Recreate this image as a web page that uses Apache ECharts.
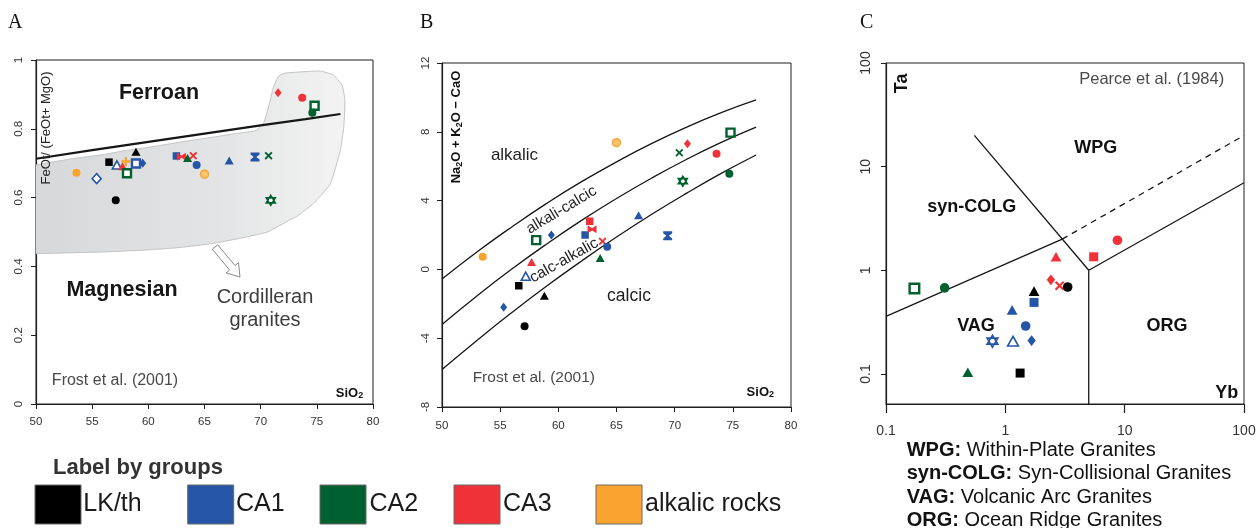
<!DOCTYPE html>
<html><head><meta charset="utf-8">
<script src="https://cdn.jsdelivr.net/npm/echarts@6.0.0/dist/echarts.min.js"></script>
<style>html,body{margin:0;padding:0;background:#fff}#c{width:1258px;height:528px}</style>
</head><body><div id="c"></div>
<script>
// ---------- data ----------
const groupNames = ['LK/th', 'CA1', 'CA2', 'CA3', 'alkalic rocks'];
const groupKeys = ['LK', 'CA1', 'CA2', 'CA3', 'ALK'];
const groupColors = {LK:'#000000', CA1:'#2455a6', CA2:'#00602f', CA3:'#ee3238', ALK:'#f9a431'};

// Panel A: SiO2 vs FeOt/(FeOt+MgO)
const panelA_points = [
  [53.6,0.672,'ALK','circle'], [55.4,0.655,'CA1','odiam'], [56.5,0.703,'LK','square'],
  [57.1,0.592,'LK','circle'], [57.2,0.695,'CA1','otri'], [57.7,0.691,'CA3','triangle'],
  [58.0,0.705,'ALK','plus'], [58.1,0.671,'CA2','bsq'], [58.9,0.733,'LK','triangle'],
  [58.9,0.699,'CA1','bsq'], [59.5,0.700,'CA1','diamond'], [62.5,0.721,'CA1','square'],
  [62.95,0.719,'CA3','bow'], [63.5,0.715,'CA2','triangle'], [64.0,0.722,'CA3','x'],
  [64.3,0.695,'CA1','circle'], [65.0,0.668,'ALK','ocirc'], [67.2,0.708,'CA1','triangle'],
  [69.5,0.718,'CA1','hour'], [70.7,0.722,'CA2','x'], [70.9,0.592,'CA2','hex'],
  [71.55,0.905,'CA3','diamond'], [73.7,0.890,'CA3','circle'], [74.8,0.867,'CA2','bsq'],
  [74.6,0.847,'CA2','circle']
];
const ferroanBoundary = [[50,0.713],[55,0.738],[60,0.762],[65,0.786],[70,0.81],[74,0.828],[77.1,0.843]];
const cordilleranField = [
  [49,0.69],[50,0.695],[53,0.712],[56,0.725],[58,0.737],[60,0.746],[63,0.762],[66,0.777],[68,0.787],
  [69.6,0.795],[70.3,0.82],[70.7,0.864],[71.15,0.922],[71.6,0.953],[72.2,0.962],[75.3,0.968],
  [76.5,0.956],[77.25,0.927],[77.5,0.884],[77.4,0.806],[77.1,0.738],[76.2,0.64],[74.7,0.583],
  [73.2,0.545],[72.6,0.535],[70.6,0.50],[68.8,0.486],[65.8,0.467],[62.85,0.455],[60,0.448],
  [56,0.442],[50,0.437],[49,0.437]
];

// Panel B: SiO2 vs Na2O+K2O-CaO (MALI)
const panelB_points = [
  [53.5,0.74,'ALK','circle'], [55.3,-2.2,'CA1','diamond'], [56.6,-0.95,'LK','square'],
  [57.1,-3.3,'LK','circle'], [57.2,-0.4,'CA1','otri'], [57.7,0.43,'CA3','triangle'],
  [58.1,1.7,'CA2','bsq'], [58.8,-1.53,'LK','triangle'], [59.4,2.0,'CA1','diamond'],
  [62.3,2.0,'CA1','square'], [62.7,2.8,'CA3','square'], [62.9,2.33,'CA3','bow'],
  [63.8,1.63,'CA3','x'], [63.6,0.66,'CA2','triangle'], [64.2,1.32,'CA1','circle'],
  [65.0,7.37,'ALK','ocirc'], [66.9,3.15,'CA1','triangle'], [69.4,1.95,'CA1','hour'],
  [70.4,6.78,'CA2','x'], [70.7,5.13,'CA2','hex'], [71.1,7.3,'CA3','diamond'],
  [73.6,6.72,'CA3','circle'], [74.8,7.95,'CA2','bsq'], [74.7,5.56,'CA2','circle']
];
const maliAlkalic = [[50,-0.56],[53,1.01],[56,2.47],[59,3.84],[62,5.10],[65,6.25],[68,7.31],[71,8.26],[74,9.11],[77,9.85]];
const maliAlkaliCalcic = [[50,-3.20],[53,-1.54],[56,0.02],[59,1.48],[62,2.85],[65,4.12],[68,5.30],[71,6.39],[74,7.38],[77,8.27]];
const maliCalcAlkalic = [[50,-5.82],[53,-4.13],[56,-2.51],[59,-0.97],[62,0.49],[65,1.88],[68,3.19],[71,4.42],[74,5.58],[77,6.65]];

// Panel C: Yb vs Ta (Pearce et al. 1984), raw values (log axes)
const panelC_points = [
  [0.173,0.667,'CA2','bsq'], [0.31,0.676,'CA2','circle'], [0.485,0.104,'CA2','triangle'],
  [0.78,0.207,'CA1','hex'], [1.16,0.207,'CA1','otri'], [1.14,0.415,'CA1','triangle'],
  [1.33,0.102,'LK','square'], [1.48,0.29,'CA1','circle'], [1.66,0.21,'CA1','diamond'],
  [1.74,0.49,'CA1','square'], [1.74,0.63,'LK','triangle'], [2.41,0.81,'CA3','diamond'],
  [2.85,0.71,'CA3','x'], [3.33,0.69,'LK','circle'], [2.66,1.35,'CA3','triangle'],
  [5.5,1.35,'CA3','square'], [8.7,1.95,'CA3','circle']
];
const pearceVagSyn = [[0.1,0.36],[3,2]];
const pearceWpgSynDashed = [[3,2],[100,20]];
const pearceWpgVag = [[0.55,20],[5,1]];
const pearceVagOrg = [[5,1],[5,0.05]];
const pearceWpgOrg = [[5,1],[100,7]];
const logTickValues = [-1, 0, 1, 2];
const logTickLabels = ['0.1', '1', '10', '100'];

// ---------- helpers ----------
const PATHS = {
  x: 'path://M0,1.6L1.6,0L5,3.4L8.4,0L10,1.6L6.6,5L10,8.4L8.4,10L5,6.6L1.6,10L0,8.4L3.4,5Z',
  plus: 'path://M3.7,0H6.3V3.7H10V6.3H6.3V10H3.7V6.3H0V3.7H3.7Z',
  hex: 'path://M5,0L9.33,7.5L0.67,7.5Z M5,10L0.67,2.5L9.33,2.5Z',
  hour: 'path://M0,0H10V2.2L6.4,5L10,7.8V10H0V7.8L3.6,5L0,2.2Z',
  bow: 'path://M0,0L5,3.6L10,0V10L5,6.4L0,10Z'
};
function mk(p, k, tx) {
  const c = groupColors[p[2]];
  const v = tx ? [Math.log10(p[0]), Math.log10(p[1])] : [p[0], p[1]];
  const it = {value: v};
  switch (p[3]) {
    case 'circle': it.symbol='circle'; it.symbolSize=8*k; it.itemStyle={color:c}; break;
    case 'square': it.symbol='rect'; it.symbolSize=7.5*k; it.itemStyle={color:c}; break;
    case 'triangle': it.symbol='triangle'; it.symbolSize=[9*k,8*k]; it.itemStyle={color:c}; break;
    case 'diamond': it.symbol='diamond'; it.symbolSize=[7*k,9*k]; it.itemStyle={color:c}; break;
    case 'otri': it.symbol='triangle'; it.symbolSize=[9*k,8*k]; it.itemStyle={color:'#fff', borderColor:c, borderWidth:1.6}; break;
    case 'odiam': it.symbol='diamond'; it.symbolSize=[9*k,10*k]; it.itemStyle={color:'#fff', borderColor:c, borderWidth:1.6}; break;
    case 'bsq': it.symbol='rect'; it.symbolSize=8*k; it.itemStyle={color:'#fff', borderColor:c, borderWidth:2.4}; break;
    case 'x': it.symbol=PATHS.x; it.symbolSize=8*k; it.itemStyle={color:c}; break;
    case 'plus': it.symbol=PATHS.plus; it.symbolSize=9*k; it.itemStyle={color:c}; break;
    case 'hex': it.symbol=PATHS.hex; it.symbolSize=[9*k,10*k]; it.itemStyle={color:'#fff', borderColor:c, borderWidth:1.6}; break;
    case 'hour': it.symbol=PATHS.hour; it.symbolSize=[9*k,9*k]; it.itemStyle={color:c}; break;
    case 'bow': it.symbol=PATHS.bow; it.symbolSize=[9*k,8*k]; it.itemStyle={color:c}; break;
    case 'ocirc': it.symbol='circle'; it.symbolSize=8*k; it.itemStyle={color:'#fbc56e', borderColor:c, borderWidth:1.5}; break;
  }
  it.itemStyle.opacity = 1;
  return it;
}
function lineS(i, data, o) {
  o = o || {};
  return {type:'line', xAxisIndex:i, yAxisIndex:i, data:data, symbol:'none', silent:true,
    smooth:o.smooth||false, clip:true, z:3,
    lineStyle:{color:'#161616', width:o.width||1.3, type:o.type||'solid'}};
}
const logT = p => [Math.log10(p[0]), Math.log10(p[1])];
const FONT = '"Liberation Sans", Arial, sans-serif';
function T(x, y, text, o) {
  o = o || {};
  const st = {text:text, fill:o.color||'#1e1e1e', fontSize:o.size||14, fontWeight:o.bold?'bold':'normal',
    fontFamily:o.family||FONT, align:o.align||'center', verticalAlign:'middle'};
  if (o.rich) st.rich = o.rich;
  return {type:'text', x:x, y:y, rotation:o.rot||0, style:st, z:100, silent:true};
}

const axisCommon = (gi) => ({
  gridIndex: gi, type:'value',
  axisLine:{show:true, onZero:false, lineStyle:{color:'#1e1e1e', width:1.2}},
  axisTick:{show:true, inside:false, length:5, lineStyle:{color:'#1e1e1e', width:1}},
  splitLine:{show:false},
  axisLabel:{fontSize:11.5, color:'#333', fontFamily:FONT, showMinLabel:true, showMaxLabel:true}
});

const chart = echarts.init(document.getElementById('c'), null, {renderer:'canvas'});
const grad = new echarts.graphic.LinearGradient(0, 0, 1, 0, [
  {offset:0, color:'#d5d7d9'}, {offset:0.6, color:'#e3e4e5'}, {offset:1, color:'#f3f3f3'}
]);

const gridBox = {show:true, borderColor:'#1e1e1e', borderWidth:1, backgroundColor:'transparent', containLabel:false, outerBoundsMode:'none'};

const subRich = {
  n:{fontSize:13, fontWeight:'bold', fontFamily:FONT, fill:'#111'},
  s:{fontSize:9, fontWeight:'bold', fontFamily:FONT, fill:'#111', verticalAlign:'bottom', padding:[5,0,0,0]}
};
const legendBoxX = [35, 187.7, 320, 454, 596];
const legendTextX = [83.3, 236, 369.5, 503, 645];

const graphics = [
  T(8, 23, 'A', {size:20, family:'"Liberation Serif", serif', align:'left', color:'#111'}),
  T(420, 23, 'B', {size:20, family:'"Liberation Serif", serif', align:'left', color:'#111'}),
  T(860, 23, 'C', {size:20, family:'"Liberation Serif", serif', align:'left', color:'#111'}),
  // Panel A annotations
  T(159, 93, 'Ferroan', {size:21.5, bold:true, color:'#161616'}),
  T(122, 290, 'Magnesian', {size:21.5, bold:true, color:'#161616'}),
  T(265, 297, 'Cordilleran', {size:20, color:'#3d3d3d'}),
  T(265, 320, 'granites', {size:20, color:'#3d3d3d'}),
  T(115, 381, 'Frost et al. (2001)', {size:16, color:'#4a4a4a'}),
  T(349.5, 393, '{n|SiO}{s|2}', {rich:subRich}),
  T(46.5, 128, 'FeOt/ (FeOt+ MgO)', {size:13, rot:Math.PI/2, color:'#222'}),
  {type:'polygon', z:90, silent:true,
   shape:{points:[[212.3,249.2],[229.6,270.0],[226.1,272.9],[240,277],[238.5,262.7],[235.0,265.6],[217.7,244.8]]},
   style:{fill:'#ffffff', stroke:'#8a8a8a', lineWidth:1}},
  // Panel B annotations
  T(514.5, 155, 'alkalic', {size:17, color:'#1e1e1e'}),
  T(561.5, 210, 'alkali-calcic', {size:15.5, rot:0.54, color:'#1e1e1e'}),
  T(564, 260.5, 'calc-alkalic', {size:15.5, rot:0.51, color:'#1e1e1e'}),
  T(629, 296, 'calcic', {size:17.5, color:'#1e1e1e'}),
  T(533.8, 377.3, 'Frost et al. (2001)', {size:15.5, color:'#4a4a4a'}),
  T(760.3, 392.3, '{n|SiO}{s|2}', {rich:subRich}),
  T(456.7, 127, '{n|Na}{s|2}{n|O + K}{s|2}{n|O − CaO}', {rot:Math.PI/2, rich:subRich}),
  // Panel C annotations
  T(1151.7, 79.3, 'Pearce et al. (1984)', {size:16.5, color:'#4a4a4a'}),
  T(901.7, 83.3, 'Ta', {size:18, bold:true, rot:Math.PI/2, color:'#111'}),
  T(1226.7, 393.3, 'Yb', {size:18, bold:true, color:'#111'}),
  T(1095.7, 148.3, 'WPG', {size:18, bold:true, color:'#111'}),
  T(971.7, 206.7, 'syn-COLG', {size:18, bold:true, color:'#111'}),
  T(976, 326, 'VAG', {size:18, bold:true, color:'#111'}),
  T(1167, 326, 'ORG', {size:18, bold:true, color:'#111'}),
];
const abbrRich = {b:{fontSize:20, fontWeight:'bold', fontFamily:FONT, fill:'#111'}, r:{fontSize:20, fontFamily:FONT, fill:'#111'}};
[['WPG:', ' Within-Plate Granites'], ['syn-COLG:', ' Syn-Collisional Granites'],
 ['VAG:', ' Volcanic Arc Granites'], ['ORG:', ' Ocean Ridge Granites']].forEach((l, i) => {
  graphics.push(T(906.7, 450 + i * 23.6, '{b|' + l[0] + '}{r|' + l[1] + '}', {align:'left', rich:abbrRich}));
});
// Legend
graphics.push(T(53, 468, 'Label by groups', {size:22, bold:true, align:'left', color:'#333'}));
groupKeys.forEach((g, i) => {
  graphics.push({type:'rect', z:100, silent:true, shape:{x:legendBoxX[i], y:485, width:46, height:39},
    style:{fill:groupColors[g], stroke:'#6a6a6a', lineWidth:1}});
  graphics.push(T(legendTextX[i], 504.5, groupNames[i], {size:25, align:'left', color:'#1a1a1a'}));
});

const option = {
  animation:false,
  backgroundColor:'#ffffff',
  textStyle:{fontFamily:FONT},
  grid:[
    Object.assign({left:36, top:60, width:337, height:344}, gridBox),
    Object.assign({left:442, top:63, width:349, height:344}, gridBox),
    Object.assign({left:886, top:63, width:358, height:341}, gridBox)
  ],
  xAxis:[
    Object.assign(axisCommon(0), {min:50, max:80, interval:5, axisLabel:Object.assign(axisCommon(0).axisLabel, {margin:12})}),
    Object.assign(axisCommon(1), {min:50, max:80, interval:5, axisLabel:Object.assign(axisCommon(1).axisLabel, {margin:13})}),
    Object.assign(axisCommon(2), {min:-1, max:2, interval:1,
      axisTick:{show:true, length:9, lineStyle:{color:'#1e1e1e', width:1.2}},
      axisLabel:Object.assign(axisCommon(2).axisLabel, {fontSize:14, margin:20,
        formatter:(v) => logTickLabels[logTickValues.indexOf(Math.round(v))] || ''})})
  ],
  yAxis:[
    Object.assign(axisCommon(0), {min:0, max:1, interval:0.2,
      axisLabel:Object.assign(axisCommon(0).axisLabel, {rotate:90, margin:11,
        formatter:(v) => (v === 0 ? '0' : v === 1 ? '1' : v.toFixed(1))})}),
    Object.assign(axisCommon(1), {min:-8, max:12, interval:4,
      axisLabel:Object.assign(axisCommon(1).axisLabel, {rotate:90, margin:10})}),
    Object.assign(axisCommon(2), {min:-1.29, max:2,
      axisTick:{show:true, length:5, customValues:logTickValues, lineStyle:{color:'#1e1e1e'}},
      axisLabel:Object.assign(axisCommon(2).axisLabel, {rotate:90, fontSize:14, margin:13,
        customValues:logTickValues,
        formatter:(v) => logTickLabels[logTickValues.indexOf(Math.round(v))] || ''})})
  ],
  series:[
    {type:'custom', xAxisIndex:0, yAxisIndex:0, data:[[60,0.6]], z:1, silent:true, clip:true,
     renderItem:(params, api) => ({type:'polygon',
       shape:{points:cordilleranField.map(p => api.coord(p)), smooth:0.12},
       style:{fill:grad, stroke:'#c4c4c4', lineWidth:1}})},
    lineS(0, ferroanBoundary, {width:2.2}),
    {type:'scatter', xAxisIndex:0, yAxisIndex:0, z:5, data:panelA_points.map(p => mk(p, 1, false))},
    lineS(1, maliAlkalic, {smooth:true}),
    lineS(1, maliAlkaliCalcic, {smooth:true}),
    lineS(1, maliCalcAlkalic, {smooth:true}),
    {type:'scatter', xAxisIndex:1, yAxisIndex:1, z:5, data:panelB_points.map(p => mk(p, 1, false))},
    lineS(2, pearceVagSyn.map(logT)),
    lineS(2, pearceWpgSynDashed.map(logT), {type:[6,5]}),
    lineS(2, pearceWpgVag.map(logT)),
    lineS(2, pearceVagOrg.map(logT)),
    lineS(2, pearceWpgOrg.map(logT)),
    {type:'scatter', xAxisIndex:2, yAxisIndex:2, z:5, data:panelC_points.map(p => mk(p, 1.2, true))}
  ],
  graphic: graphics
};
chart.setOption(option);
</script></body></html>
